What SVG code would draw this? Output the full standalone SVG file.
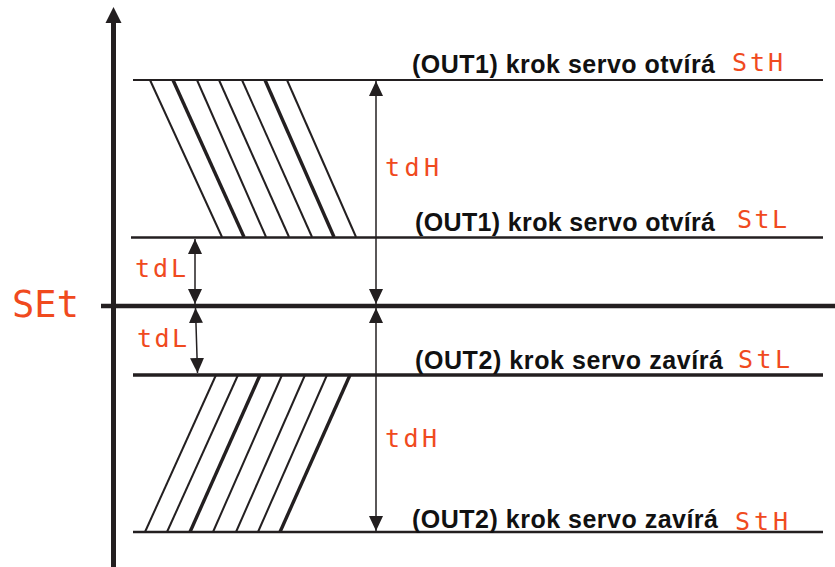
<svg xmlns="http://www.w3.org/2000/svg" width="835" height="567" viewBox="0 0 835 567">
<style>
.lbl{font-family:"Liberation Sans",Arial,sans-serif;font-weight:bold;font-size:25px;fill:#111}
.seg{font-family:"DejaVu Sans Mono","Liberation Mono",monospace;font-size:25px;fill:#F04A1E}
.lv{stroke:#231F20;fill:none}
.h{stroke:#231F20;stroke-width:2;fill:none}
.hk{stroke:#231F20;stroke-width:3.4;fill:none}
.dim{stroke:#231F20;stroke-width:1.5;fill:none}
</style>
<defs>
<marker id="ah" viewBox="0 0 15 14" refX="15" refY="7" markerWidth="15" markerHeight="14" markerUnits="userSpaceOnUse" orient="auto-start-reverse">
<path d="M0,0 L15,7 L0,14 Z" fill="#231F20"/>
</marker>
</defs>
<rect width="835" height="567" fill="#fff"/>

<g id="axis">
<line x1="113.5" y1="20" x2="113.5" y2="567" stroke="#231F20" stroke-width="5"/>
<path d="M113.5,7 L121.5,23 L105.5,23 Z" fill="#231F20"/>
</g>

<g id="set">
<line x1="101" y1="306" x2="835" y2="306" stroke="#231F20" stroke-width="4.5"/>
<text class="seg" x="12" y="317" style="font-size:37px" textLength="67" lengthAdjust="spacing">SEt</text>
</g>

<g id="out1-sth">
<line class="lv" x1="133" y1="80" x2="823" y2="80" stroke-width="2"/>
<text class="lbl" x="412" y="73" textLength="303" lengthAdjust="spacing">(OUT1) krok servo otvírá</text>
<text class="seg" x="732" y="71" textLength="51" lengthAdjust="spacing">StH</text>
</g>

<g id="out1-stl">
<line class="lv" x1="131" y1="237.5" x2="823" y2="237.5" stroke-width="2.5"/>
<text class="lbl" x="415" y="231" textLength="300" lengthAdjust="spacing">(OUT1) krok servo otvírá</text>
<text class="seg" x="737" y="228" textLength="50" lengthAdjust="spacing">StL</text>
</g>

<g id="out2-stl">
<line class="lv" x1="133" y1="375" x2="823" y2="375" stroke-width="3.5"/>
<text class="lbl" x="415" y="369" textLength="308" lengthAdjust="spacing">(OUT2) krok servo zavírá</text>
<text class="seg" x="738" y="368" textLength="52" lengthAdjust="spacing">StL</text>
</g>

<g id="out2-sth">
<line class="lv" x1="133" y1="532" x2="823" y2="532" stroke-width="2.5"/>
<text class="lbl" x="412" y="528" textLength="306" lengthAdjust="spacing">(OUT2) krok servo zavírá</text>
<text class="seg" x="735" y="530" textLength="53" lengthAdjust="spacing">StH</text>
</g>

<g id="hatch-open">
<line class="h" x1="150" y1="80" x2="222" y2="237"/>
<line class="hk" x1="173" y1="80" x2="244" y2="237"/>
<line class="h" x1="197" y1="80" x2="266" y2="237"/>
<line class="h" x1="219" y1="80" x2="289" y2="237"/>
<line class="h" x1="242" y1="80" x2="312" y2="237"/>
<line class="hk" x1="265" y1="80" x2="334" y2="237"/>
<line class="h" x1="287" y1="80" x2="356" y2="237"/>
</g>

<g id="hatch-close">
<line class="h" x1="216" y1="375" x2="145" y2="532"/>
<line class="h" x1="238" y1="375" x2="167" y2="532"/>
<line class="hk" x1="260" y1="375" x2="190" y2="532"/>
<line class="h" x1="282" y1="375" x2="213" y2="532"/>
<line class="h" x1="305" y1="375" x2="236" y2="532"/>
<line class="h" x1="327" y1="375" x2="258" y2="532"/>
<line class="hk" x1="350" y1="375" x2="280" y2="532"/>
</g>

<g id="connectors">
<line class="dim" x1="376" y1="81" x2="376" y2="304" marker-start="url(#ah)" marker-end="url(#ah)"/>
<line class="dim" x1="376" y1="308" x2="376" y2="531" marker-start="url(#ah)" marker-end="url(#ah)"/>
<line class="dim" x1="195" y1="239" x2="195" y2="304" marker-start="url(#ah)" marker-end="url(#ah)"/>
<line class="dim" x1="195.5" y1="308" x2="197.5" y2="373" marker-start="url(#ah)" marker-end="url(#ah)"/>
</g>

<g id="dim-labels">
<text class="seg" x="385" y="176" textLength="54" lengthAdjust="spacing">tdH</text>
<text class="seg" x="385" y="447" textLength="52" lengthAdjust="spacing">tdH</text>
<text class="seg" x="135" y="277" textLength="51" lengthAdjust="spacing">tdL</text>
<text class="seg" x="137" y="347" textLength="50" lengthAdjust="spacing">tdL</text>
</g>
</svg>
